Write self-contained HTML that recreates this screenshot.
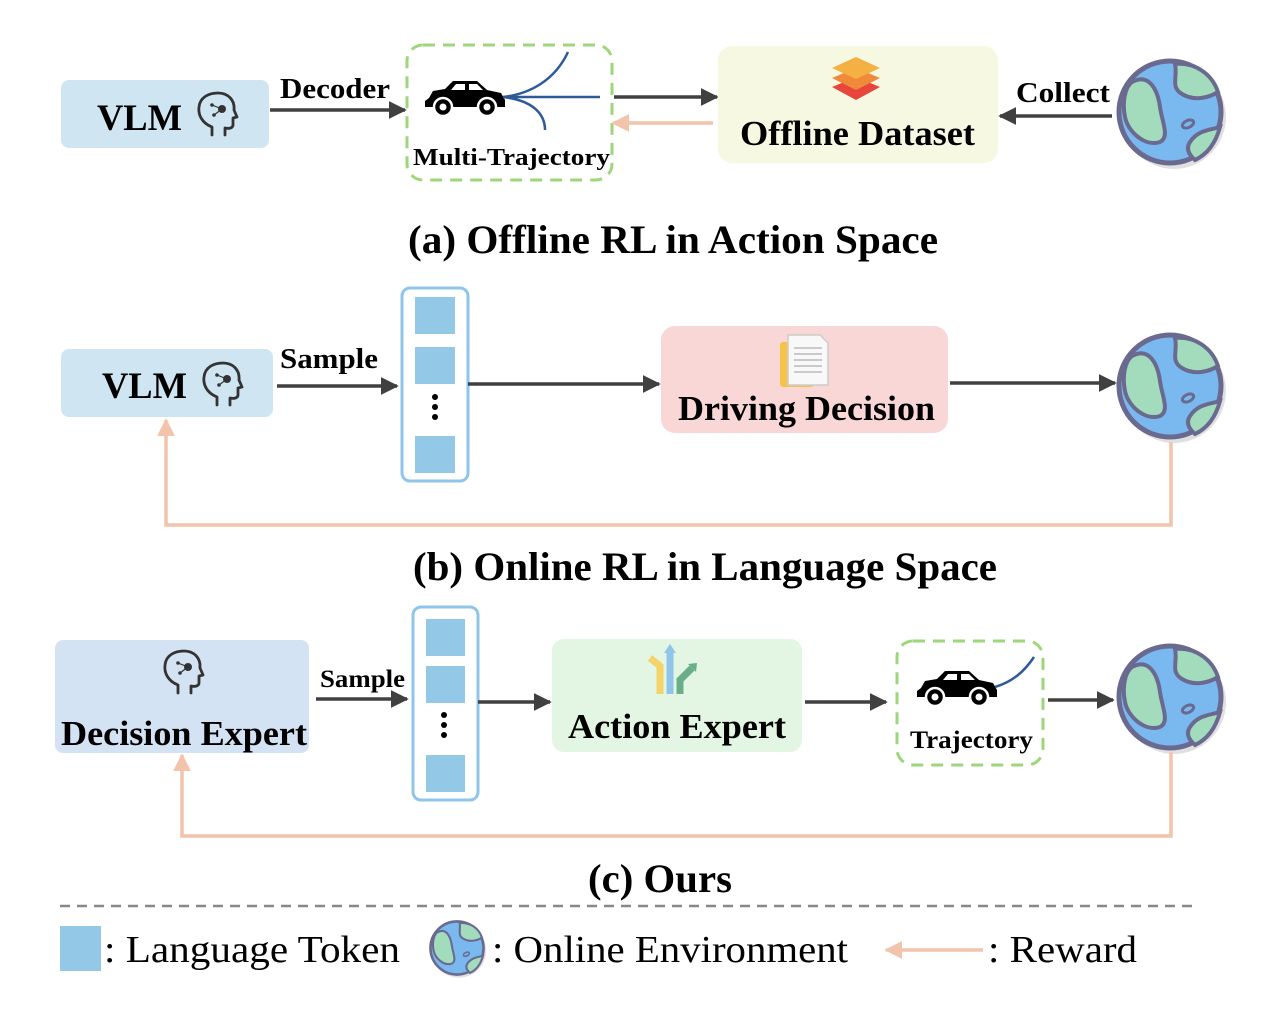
<!DOCTYPE html>
<html><head><meta charset="utf-8"><style>
html,body{margin:0;padding:0;background:#fff;}
svg{display:block;}
.b{font-family:"Liberation Serif",serif;font-weight:bold;fill:#000;}
.n{font-family:"Liberation Serif",serif;fill:#000;}
</style></head><body>
<svg width="1272" height="1014" viewBox="0 0 1272 1014" xmlns="http://www.w3.org/2000/svg">
<defs>
<marker id="ak" viewBox="0 0 10 10" markerWidth="18" markerHeight="18" refX="9" refY="5" orient="auto" markerUnits="userSpaceOnUse"><path d="M0,0 L10,5 L0,10z" fill="#404040"/></marker>
<marker id="ap" viewBox="0 0 10 10" markerWidth="18" markerHeight="18" refX="9" refY="5" orient="auto" markerUnits="userSpaceOnUse"><path d="M0,0 L10,5 L0,10z" fill="#f2c4ac"/></marker>
<g id="globe">
<circle r="52" fill="#000" opacity="0.12" cx="4" cy="5"/>
<circle r="51" fill="#7ab8f0" stroke="#6a6a90" stroke-width="5"/>
<path d="M-38,-30 C-20,-40 -12,-20 -10,-5 C-8,10 0,25 -10,30 C-25,35 -42,20 -45,5 C-48,-10 -45,-25 -38,-30z" fill="#a3dcbc" stroke="#6a6a90" stroke-width="4"/>
<path d="M5,-48 C8,-35 0,-25 12,-18 C25,-10 40,-15 48,-20 C42,-38 25,-50 5,-48z" fill="#a3dcbc" stroke="#6a6a90" stroke-width="4"/>
<path d="M20,30 C28,18 40,18 50,15 C46,30 38,42 25,48 C18,42 16,36 20,30z" fill="#a3dcbc" stroke="#6a6a90" stroke-width="4"/>
<ellipse cx="18" cy="12" rx="6" ry="3.5" transform="rotate(-25 18 12)" fill="none" stroke="#6a6a90" stroke-width="3"/>
</g>
<g id="car">
<path d="M4,18 L8,11 L20,9 L28,1 L52,1 L62,10 L76,13 L80,20 L80,27 L0,27 L0,21z" fill="#000"/>
<path d="M31,4 L40,4 L40,10 L26,10z M44,4 L52,4 L58,10 L44,10z" fill="#fff"/>
<circle cx="18" cy="27" r="9" fill="#000" stroke="#fff" stroke-width="2.5"/><circle cx="18" cy="27" r="3.5" fill="#fff"/>
<circle cx="62" cy="27" r="9" fill="#000" stroke="#fff" stroke-width="2.5"/><circle cx="62" cy="27" r="3.5" fill="#fff"/>
</g>
<g id="head">
<path d="M-4,20 L-4,12 C-14,8 -18,0 -17,-8 C-16,-18 -7,-22 2,-22 C12,-22 19,-15 18,-5 L21,2 L17,3 L17,10 C17,13 13,14 9,13 L9,20" fill="none" stroke="#333" stroke-width="2.8" stroke-linejoin="round" stroke-linecap="round"/>
<circle cx="6" cy="-6" r="4" fill="#333"/><circle cx="-4" cy="-10" r="1.8" fill="#333"/><circle cx="-2" cy="0" r="1.8" fill="#333"/>
<path d="M-4,-10 L6,-6 L-2,0" stroke="#333" stroke-width="1.2" fill="none"/>
</g>
</defs>

<!-- (a) -->
<rect x="61" y="80" width="208" height="68" rx="8" fill="#cfe6f2"/>
<text class="b" x="97" y="130" font-size="37" textLength="85" lengthAdjust="spacingAndGlyphs">VLM</text>
<use href="#head" x="216" y="115"/>
<line x1="270" y1="110" x2="405" y2="110" stroke="#404040" stroke-width="3.5" marker-end="url(#ak)"/>
<text class="b" x="280" y="98" font-size="29" textLength="110" lengthAdjust="spacingAndGlyphs">Decoder</text>
<rect x="407" y="45" width="205" height="135" rx="16" fill="none" stroke="#9ed67c" stroke-width="3" stroke-dasharray="12,8"/>
<use href="#car" x="425" y="80"/>
<path d="M503,97 C530,94 555,80 568,52 M503,97 L600,97 M503,97 C530,100 545,112 545,130" fill="none" stroke="#2f5a9a" stroke-width="2.5"/>
<text class="b" x="413" y="165" font-size="24" textLength="197" lengthAdjust="spacingAndGlyphs">Multi-Trajectory</text>
<line x1="614" y1="97" x2="717" y2="97" stroke="#404040" stroke-width="3.5" marker-end="url(#ak)"/>
<line x1="713" y1="123" x2="613" y2="123" stroke="#f2c4ac" stroke-width="3.5" marker-end="url(#ap)"/>
<rect x="718" y="46" width="280" height="117" rx="14" fill="#f6f8e2"/>
<path d="M832,87 L856,77 L880,87 L856,100z" fill="#e8453c"/>
<path d="M832,78 L856,68 L880,78 L856,90z" fill="#f08a3a"/>
<path d="M832,68 L856,57 L880,68 L856,79z" fill="#f5b044"/>
<text class="b" x="740" y="145" font-size="35" textLength="235" lengthAdjust="spacingAndGlyphs">Offline Dataset</text>
<line x1="1112" y1="116" x2="1000" y2="116" stroke="#404040" stroke-width="3.5" marker-end="url(#ak)"/>
<text class="b" x="1016" y="102" font-size="29" textLength="94" lengthAdjust="spacingAndGlyphs">Collect</text>
<use href="#globe" x="1170" y="112"/>
<text class="b" x="408" y="253" font-size="40" textLength="530" lengthAdjust="spacingAndGlyphs">(a) Offline RL in Action Space</text>

<!-- (b) -->
<rect x="61" y="349" width="212" height="68" rx="8" fill="#cfe6f2"/>
<text class="b" x="102" y="398" font-size="37" textLength="85" lengthAdjust="spacingAndGlyphs">VLM</text>
<use href="#head" x="221" y="385"/>
<line x1="277" y1="386" x2="397" y2="386" stroke="#404040" stroke-width="3.5" marker-end="url(#ak)"/>
<text class="b" x="280" y="368" font-size="29" textLength="98" lengthAdjust="spacingAndGlyphs">Sample</text>
<rect x="402" y="288" width="66" height="193" rx="8" fill="#fff" stroke="#8ec5e8" stroke-width="3"/>
<rect x="415" y="297" width="40" height="37" fill="#93c9e6"/>
<rect x="415" y="347" width="40" height="37" fill="#93c9e6"/>
<rect x="415" y="436" width="40" height="37" fill="#93c9e6"/>
<circle cx="435" cy="397" r="3" fill="#000"/><circle cx="435" cy="407" r="3" fill="#000"/><circle cx="435" cy="417" r="3" fill="#000"/>
<line x1="468" y1="384" x2="659" y2="384" stroke="#404040" stroke-width="3.5" marker-end="url(#ak)"/>
<rect x="661" y="326" width="287" height="107" rx="14" fill="#f8d7d6"/>
<rect x="780" y="342" width="34" height="45" rx="3" fill="#f5c24a"/>
<path d="M788,335 L820,335 L828,343 L828,385 L788,385z" fill="#f8f8f8" stroke="#ccc" stroke-width="1.5"/>
<path d="M794,348 H822 M794,354 H822 M794,360 H822 M794,366 H822 M794,372 H822" stroke="#bbb" stroke-width="1.5"/>
<text class="b" x="678" y="420" font-size="35" textLength="257" lengthAdjust="spacingAndGlyphs">Driving Decision</text>
<line x1="950" y1="383" x2="1115" y2="383" stroke="#404040" stroke-width="3.5" marker-end="url(#ak)"/>
<use href="#globe" x="1170" y="386"/>
<polyline points="1171,442 1171,525 166,525 166,420" fill="none" stroke="#f2c4ac" stroke-width="3.5" marker-end="url(#ap)"/>
<text class="b" x="413" y="580" font-size="40" textLength="584" lengthAdjust="spacingAndGlyphs">(b) Online RL in Language Space</text>

<!-- (c) -->
<rect x="55" y="640" width="254" height="113" rx="8" fill="#d3e3f3"/>
<use href="#head" x="182" y="673"/>
<text class="b" x="61" y="745" font-size="35" textLength="246" lengthAdjust="spacingAndGlyphs">Decision Expert</text>
<line x1="316" y1="699" x2="407" y2="699" stroke="#404040" stroke-width="3.5" marker-end="url(#ak)"/>
<text class="b" x="320" y="687" font-size="25" textLength="85" lengthAdjust="spacingAndGlyphs">Sample</text>
<rect x="413" y="607" width="65" height="193" rx="8" fill="#fff" stroke="#8ec5e8" stroke-width="3"/>
<rect x="426" y="619" width="39" height="37" fill="#93c9e6"/>
<rect x="426" y="666" width="39" height="37" fill="#93c9e6"/>
<rect x="426" y="755" width="39" height="37" fill="#93c9e6"/>
<circle cx="444" cy="715" r="3" fill="#000"/><circle cx="444" cy="725" r="3" fill="#000"/><circle cx="444" cy="735" r="3" fill="#000"/>
<line x1="478" y1="702" x2="550" y2="702" stroke="#404040" stroke-width="3.5" marker-end="url(#ak)"/>
<rect x="552" y="639" width="250" height="113" rx="12" fill="#e3f5e3"/>
<path d="M650,658 L660,666 L660,694" fill="none" stroke="#f3d36a" stroke-width="7"/>
<path d="M670,694 L670,652" fill="none" stroke="#8ec5e8" stroke-width="7"/><path d="M664,653 L670,644 L676,653z" fill="#8ec5e8"/>
<path d="M680,694 L680,680 L692,668" fill="none" stroke="#6aae88" stroke-width="7"/><path d="M688,664 L697,663 L696,672z" fill="#6aae88"/>
<text class="b" x="568" y="738" font-size="35" textLength="218" lengthAdjust="spacingAndGlyphs">Action Expert</text>
<line x1="805" y1="702" x2="886" y2="702" stroke="#404040" stroke-width="3.5" marker-end="url(#ak)"/>
<rect x="897" y="641" width="146" height="124" rx="16" fill="none" stroke="#9ed67c" stroke-width="3" stroke-dasharray="12,8"/>
<use href="#car" x="917" y="670"/>
<path d="M995,687 C1012,682 1024,672 1034,657" fill="none" stroke="#2f5a9a" stroke-width="2.5"/>
<text class="b" x="910" y="748" font-size="25" textLength="123" lengthAdjust="spacingAndGlyphs">Trajectory</text>
<line x1="1048" y1="700" x2="1113" y2="700" stroke="#404040" stroke-width="3.5" marker-end="url(#ak)"/>
<use href="#globe" x="1170" y="697"/>
<polyline points="1171,752 1171,836 182,836 182,755" fill="none" stroke="#f2c4ac" stroke-width="3.5" marker-end="url(#ap)"/>
<text class="b" x="588" y="892" font-size="40" textLength="144" lengthAdjust="spacingAndGlyphs">(c) Ours</text>

<line x1="60" y1="906" x2="1195" y2="906" stroke="#888" stroke-width="2.5" stroke-dasharray="10,7"/>
<rect x="60" y="926" width="41" height="45" fill="#93c9e6"/>
<text class="n" x="104" y="962" font-size="38" textLength="296" lengthAdjust="spacingAndGlyphs">: Language Token</text>
<use href="#globe" transform="translate(457,948) scale(0.52)"/>
<text class="n" x="492" y="962" font-size="38" textLength="356" lengthAdjust="spacingAndGlyphs">: Online Environment</text>
<line x1="983" y1="950" x2="886" y2="950" stroke="#f2c4ac" stroke-width="3.5" marker-end="url(#ap)"/>
<text class="n" x="988" y="962" font-size="38" textLength="149" lengthAdjust="spacingAndGlyphs">: Reward</text>
</svg>
</body></html>
